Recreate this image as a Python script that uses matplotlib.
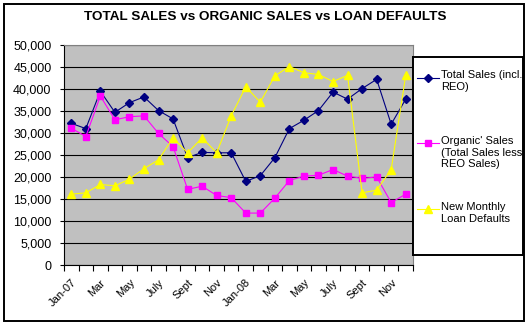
"""
plot.py - total sales vs organic sales vs new monthly loan defaults, 2007-2008.

Writes out.png (530x327).
"""

import numpy as np
import matplotlib.pyplot as plt
from matplotlib.patches import Rectangle
from matplotlib.transforms import ScaledTranslation

plt.rcParams["font.family"] = ["Liberation Sans", "DejaVu Sans"]

# --- data ------------------------------------------------------------------
months = ["Jan-07", "Feb", "Mar", "Apr", "May", "Jun", "July", "Aug", "Sept",
          "Oct", "Nov", "Dec", "Jan-08", "Feb", "Mar", "Apr", "May", "Jun",
          "July", "Aug", "Sept", "Oct", "Nov", "Dec"]
total_sales = [32200, 31000, 39500, 34700, 36900, 38200, 35100, 33200, 24400,
               25600, 25500, 25500, 19000, 20300, 24400, 31000, 32900, 35100,
               39300, 37700, 40100, 42200, 32000, 37700]
organic_sales = [31100, 29200, 38400, 33000, 33700, 33900, 29900, 26900, 17200,
                 17900, 15800, 15300, 11800, 11800, 15200, 19200, 20200, 20400,
                 21700, 20200, 19700, 20000, 14200, 16100]
loan_defaults = [16100, 16400, 18300, 18000, 19500, 21900, 23900, 28900, 25500,
                 28900, 25500, 33900, 40500, 37000, 43000, 45100, 43700, 43300,
                 41700, 43100, 16400, 17000, 21700, 43100]

series = [
    (total_sales, "Total Sales (incl.\nREO)", "#000080", "D", 4.2),
    (organic_sales, "Organic' Sales\n(Total Sales less\nREO Sales)", "#FF00FF", "s", 4.5),
    (loan_defaults, "New Monthly\nLoan Defaults", "#FFFF00", "^", 5.5),
]

W, H = 530, 327
fig = plt.figure(figsize=(W / 100, H / 100), dpi=100)

# plot area in pixel terms, converted to figure fractions
ax = fig.add_axes([64 / W, (H - 265) / H, 349 / W, 220 / H])
ax.set_facecolor("#C0C0C0")

x = np.arange(len(months))
for vals, label, color, marker, ms in series:
    ax.plot(x, vals, color=color, lw=0.8, marker=marker, ms=ms,
            markerfacecolor=color, markeredgecolor=color)

ax.set_xlim(-0.5, len(months) - 0.5)
ax.set_ylim(0, 50000)
ax.set_yticks(np.arange(0, 50001, 5000))
ax.set_yticklabels([f"{v:,}" for v in range(0, 50001, 5000)], fontsize=9)
ax.yaxis.grid(True, color="black", lw=0.8)
ax.set_axisbelow(True)

# category boundaries get the tick marks, every other category gets a label
ax.set_xticks(np.arange(len(months) + 1) - 0.5)
ax.set_xticklabels([])
ax.set_xticks(x[::2], minor=True)
ax.set_xticklabels(months[::2], minor=True, rotation=45, ha="right",
                   rotation_mode="anchor", fontsize=8)
shift = ScaledTranslation(-0.08, 0, fig.dpi_scale_trans)
for lbl in ax.get_xticklabels(minor=True):
    lbl.set_transform(lbl.get_transform() + shift)
ax.tick_params(axis="x", which="major", length=4, width=0.8, direction="out")
ax.tick_params(axis="x", which="minor", length=0, pad=9)
ax.tick_params(axis="y", length=3, width=0.8, pad=6)

for side in ("top", "right"):
    ax.spines[side].set_color("#808080")
    ax.spines[side].set_linewidth(0.8)
for side in ("left", "bottom"):
    ax.spines[side].set_color("black")
    ax.spines[side].set_linewidth(0.8)

fig.text(0.5, 1 - 17 / H, "TOTAL SALES vs ORGANIC SALES vs LOAN DEFAULTS",
         ha="center", va="center", fontsize=9.7, fontweight="bold")

# --- legend, laid out by hand so the marker sits on the first text line ---
leg = fig.add_axes([413 / W, (H - 255) / H, 110 / W, 198 / H])
leg.set_xlim(0, 110)
leg.set_ylim(198, 0)
leg.set_xticks([])
leg.set_yticks([])
for s in leg.spines.values():
    s.set_linewidth(1.4)
for (vals, label, color, marker, ms), y in zip(series, [20.5, 86, 152]):
    leg.plot([4, 26], [y, y], color=color, lw=0.8)
    leg.plot([15], [y], marker=marker, ms=ms, color=color)
    leg.text(28, y - 7, label, va="top", ha="left", fontsize=8,
             linespacing=1.2)

# outer chart border
fig.patches.append(Rectangle((4 / W, (H - 321) / H), 520 / W, 317 / H,
                             transform=fig.transFigure, fill=False,
                             edgecolor="black", lw=1.4))

fig.savefig("out.png", dpi=100)
